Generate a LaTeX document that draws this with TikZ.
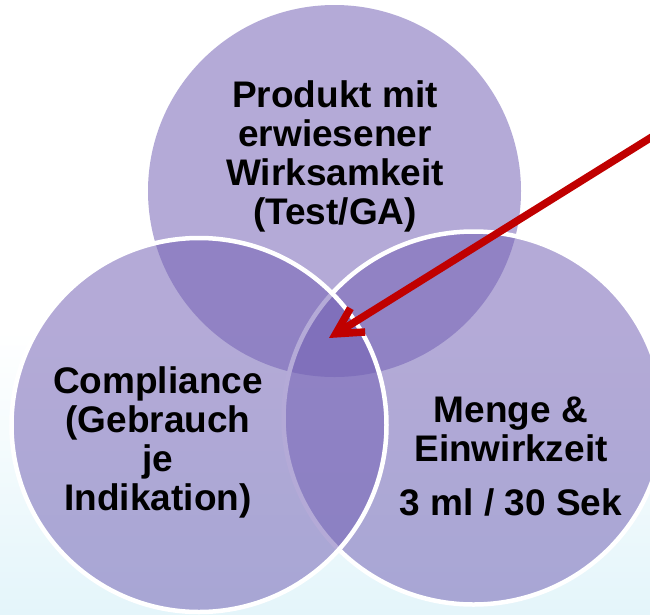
\documentclass[tikz,border=0pt]{standalone}
\usepackage{fontspec}
\setmainfont{Liberation Sans}
\usetikzlibrary{shapes.geometric,arrows.meta}
\definecolor{vennfill}{RGB}{114,96,180}
\definecolor{arrowred}{RGB}{192,0,0}
\definecolor{bgcyan}{RGB}{228,245,250}

\begin{document}
\begin{tikzpicture}[x=1pt,y=-1pt,
    ring/.style={ellipse, inner sep=0pt, fill=vennfill, fill opacity=0.53},
    venntext/.style={align=center, inner sep=0pt, anchor=north, font=\bfseries\fontsize{37}{39}\selectfont}]

    % Background
    \clip (0,0) rectangle (650,614);
    \fill[white] (0,0) rectangle (650,614);
    \shade[top color=white, bottom color=bgcyan] (0,330) rectangle (650,614);

    % Circles
    \node[ring, minimum width=373pt, minimum height=372pt] (prod) at (334.5,191) {};
    \node[ring, draw=white, line width=4.5pt, minimum width=380pt, minimum height=373pt] (dose) at (473.5,418) {};
    \node[ring, draw=white, line width=4.5pt, minimum width=375pt, minimum height=374pt] (comp) at (199,425) {};

    % Labels
    \node[venntext] (prodtxt) at (335,80) {Produkt mit\\erwiesener\\Wirksamkeit\\(Test/GA)};
    \node[venntext] (comptxt) at (158,366) {Compliance\\(Gebrauch\\je\\Indikation)};
    \node[venntext] (dosetxt) at (511,397) {Menge \&\\Einwirkzeit\\[15pt]3 ml / 30 Sek};

    % Arrow
    \coordinate (from) at (655,135);
    \coordinate (tip) at (329,338);
    \draw[arrowred, line width=7.5pt, -{Straight Barb[length=26pt,width=28pt]}] (from) -- (tip);
\end{tikzpicture}
\end{document}
